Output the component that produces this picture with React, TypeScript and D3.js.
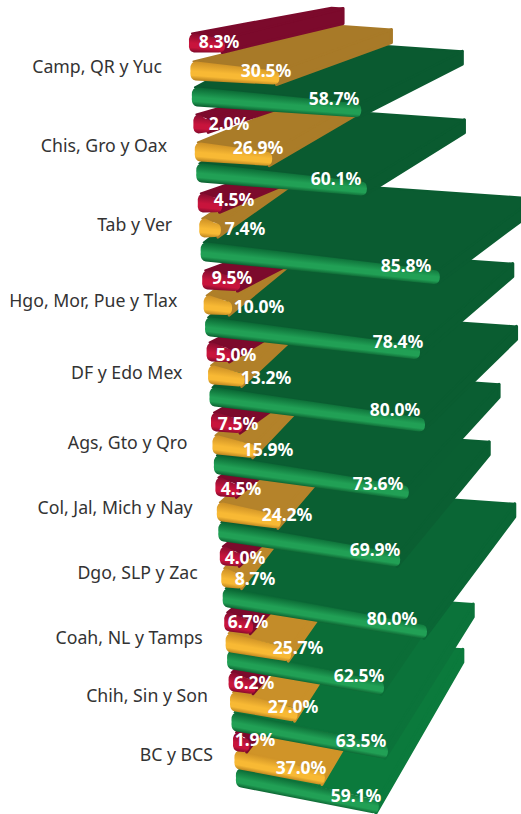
import React from "react";
import * as d3 from "d3";

const categories = ["Camp, QR y Yuc", "Chis, Gro y Oax", "Tab y Ver", "Hgo, Mor, Pue y Tlax", "DF y Edo Mex", "Ags, Gto y Qro", "Col, Jal, Mich y Nay", "Dgo, SLP y Zac", "Coah, NL y Tamps", "Chih, Sin y Son", "BC y BCS"];
const redValues = [8.3, 2.0, 4.5, 9.5, 5.0, 7.5, 4.5, 4.0, 6.7, 6.2, 1.9];
const orangeValues = [30.5, 26.9, 7.4, 10.0, 13.2, 15.9, 24.2, 8.7, 25.7, 27.0, 37.0];
const greenValues = [58.7, 60.1, 85.8, 78.4, 80.0, 73.6, 69.9, 80.0, 62.5, 63.5, 59.1];

const W = 521, H = 814;
const rows = d3.range(categories.length);

// Projection of the stack: each bar has an index k = 3*row + series
const bandY = [
  [43, 124, 203, 280, 352, 422, 487, 556, 622, 682, 742],
  [71, 152, 228, 305, 375, 445, 512, 578, 643, 702, 760],
  [97, 173, 252, 327, 397, 465, 532, 598, 660, 722, 778],
];
const yScales = bandY.map((r) => d3.scaleLinear<number>().domain(rows).range(r));
const xLeft = d3.scaleLinear().domain([0, 32]).range([189, 236]);
const unit = d3.scaleLinear().domain([0, 32]).range([2.9, 2.4]);
const slope = d3.scaleLinear().domain([0, 8, 32]).range([0.07, 0.105, 0.2]);
const depthX = d3.scaleLinear().domain([0, 1, 2, 8, 32]).range([130, 113, 102, 95, 85]);
const depthY = d3.scaleLinear().domain([0, 2, 32]).range([-30, -52, -150]);
const redDepthY = d3.scaleLinear().domain([0, 1, 3, 10]).range([-30, -32, -45, -100]);
const redCap = 11; // the rounded red cap adds visible length at the front
const backFrac = [0.33, 0.6, 1.05];
const catRight = d3.scaleLinear().domain([0, 10]).range([162, 213]);
const catY = d3.scaleLinear<number>().domain(rows).range([66, 145, 224, 300, 372, 442, 507, 572, 637, 695, 754]);

// Label anchors (centres)
const labelCx = [
  [219, 229, 234, 232, 236, 238, 241, 245, 248, 254, 255],
  [266, 258, 245, 259, 266, 268, 287, 255, 298, 293, 301],
  [334, 336, 406, 398, 395, 378, 375, 392, 359, 361, 356],
];
const labelCy = [
  [41, 123, 199, 277, 354, 423, 488, 557, 621, 682, 739],
  [70, 147, 228, 306, 377, 449, 514, 578, 647, 706, 767],
  [98, 178, 265, 341, 409, 483, 549, 618, 675, 740, 795],
];

const palette = [
  { a: "#8a0c30", b: "#c8143c", c: "#750829" },
  { a: "#cf9226", b: "#f8b934", c: "#b07a1c" },
  { a: "#0b6a35", b: "#21a055", c: "#08562a" },
];
const topShade = [
  d3.scaleLinear<string>().domain([0, 30]).range(["#7c0a2c", "#7c0a2c"]),
  d3.scaleLinear<string>().domain([1, 19, 31]).range(["#a87a28", "#b5832a", "#d09428"]),
  d3.scaleLinear<string>().domain([2, 20, 32]).range(["#0a5a30", "#0a5f32", "#0b7a3c"]),
];
const seriesValues = [redValues, orangeValues, greenValues];

function Bar({ row, s }: { row: number; s: number }) {
  const k = row * 3 + s;
  const v = seriesValues[s][row];
  const p = palette[s];
  const xL = xLeft(k);
  const yL = yScales[s](row);
  const cap = s === 0 ? redCap : 0;
  const len = v * unit(k) + cap;
  const xR = xL + len;
  const sl = slope(k);
  const yR = yL + sl * len;
  const hL = 19, hR = 14;
  const dx = depthX(k) - cap, dy = s === 0 ? redDepthY(row) : depthY(k);
  const backH = s === 0 ? 15 : 13;
  const brX = xR + dx, brY = yR - hR / 2 + dy;
  const backW = backFrac[s] * len;
  const shade = topShade[s](k);

  const topPts: [number, number][] = [
    [xL + 3, yL - hL / 2],
    [xR, yR - hR / 2],
    [brX, brY],
    [brX - backW, brY - 0.07 * backW],
  ];
  const sidePts: [number, number][] = [
    [xR - 2, yR - hR / 2],
    [brX, brY],
    [brX, brY + backH],
    [xR - 2, yR + hR / 2],
  ];
  const poly = d3.line();
  const band = d3.path();
  const minR = Math.min(5, len / 3);
  band.moveTo(xL + 6, yL - hL / 2);
  band.lineTo(xR - minR, yR - hR / 2);
  band.quadraticCurveTo(xR + 1, yR - hR / 2, xR + 1, yR);
  band.quadraticCurveTo(xR + 1, yR + hR / 2, xR - minR, yR + hR / 2);
  band.lineTo(xL + 5, yL + hL / 2);
  band.quadraticCurveTo(xL - 1, yL + hL / 2 - 1, xL, yL);
  band.quadraticCurveTo(xL - 1, yL - hL / 2, xL + 6, yL - hL / 2);
  band.closePath();

  const sx = xL;
  const sy = yL - hL / 2;
  const q = hL / (1 + sl * sl);
  const id = `g${k}`;
  return (
    <g>
      <defs>
        <linearGradient id={id} gradientUnits="userSpaceOnUse" x1={sx} y1={sy} x2={sx - sl * q} y2={sy + q}>
          <stop offset="0" stopColor={p.a} />
          <stop offset="0.5" stopColor={p.b} />
          <stop offset="0.72" stopColor={p.b} />
          <stop offset="1" stopColor={p.c} />
        </linearGradient>
      </defs>
      <path d={poly(sidePts) + "Z"} fill={shade} stroke={shade} strokeWidth={3} strokeLinejoin="round" />
      <path d={poly(topPts) + "Z"} fill={shade} stroke={shade} strokeWidth={2} strokeLinejoin="round" />
      <path d={band.toString()} fill={`url(#${id})`} />
    </g>
  );
}

export default function App() {
  const order = d3.range(10, -1, -1);
  return (
    <svg width={W} height={H} viewBox={`0 0 ${W} ${H}`} style={{ position: "absolute", left: 0, top: 0, background: "#fff", display: "block" }}>
      {order.map((r) => (
        <g key={r}>
          {[2, 1, 0].map((s) => (
            <Bar key={s} row={r} s={s} />
          ))}
        </g>
      ))}
      {rows.map((r) => (
        <text key={r} x={catRight(r)} y={catY(r)} textAnchor="end" dominantBaseline="central" fontFamily="'Noto Sans'" fontSize={17.7} fill="#333">
          {categories[r]}
        </text>
      ))}
      {[2, 1, 0].map((s) =>
        rows.map((r) => (
          <text key={`${s}-${r}`} x={labelCx[s][r]} y={labelCy[s][r]} textAnchor="middle" dominantBaseline="central" fontFamily="'Noto Sans'" fontWeight={700} fontSize={17.5} fill="#fff">
            {`${seriesValues[s][r].toFixed(1)}%`}
          </text>
        ))
      )}
    </svg>
  );
}
